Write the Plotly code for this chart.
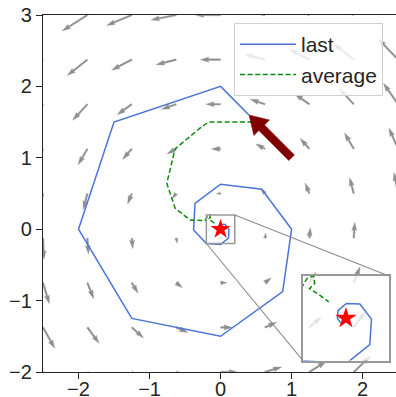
import math
import plotly.graph_objects as go

# ---- gradient field sampled on a 9 x 9 grid (tails of the arrows) ----
grid_x = [-2.5, -1.875, -1.25, -0.625, 0.0, 0.625, 1.25, 1.875, 2.5]
grid_y = [-2.0, -1.375, -0.75, -0.125, 0.5, 1.125, 1.75, 2.375, 3.0]

# horizontal component, one row per grid_y value
field_u = [
    [2.0, 2.0, 2.0, 2.0, 2.0, 2.0, 2.0, 2.0, 2.0],
    [1.4, 1.4, 1.4, 1.4, 1.4, 1.4, 1.4, 1.4, 1.4],
    [0.75, 0.75, 0.75, 0.75, 0.75, 0.75, 0.75, 0.75, 0.75],
    [0.12, 0.12, 0.12, 0.12, 0.12, 0.12, 0.12, 0.12, 0.12],
    [-0.5, -0.5, -0.5, -0.5, -0.5, -0.5, -0.5, -0.5, -0.5],
    [-1.1, -1.1, -1.1, -1.1, -1.1, -1.1, -1.1, -1.1, -1.1],
    [-1.75, -1.75, -1.75, -1.75, -1.75, -1.75, -1.75, -1.75, -1.75],
    [-2.4, -2.4, -2.4, -2.4, -2.4, -2.4, -2.4, -2.4, -2.4],
    [-3.0, -3.0, -3.0, -3.0, -3.0, -3.0, -3.0, -3.0, -3.0],
]
# vertical component, one row per grid_y value
field_v = [
    [-2.5, -1.9, -1.25, -0.6, 0.0, 0.6, 1.25, 1.9, 2.5],
    [-2.5, -1.9, -1.25, -0.6, 0.0, 0.6, 1.25, 1.9, 2.5],
    [-2.5, -1.9, -1.25, -0.6, 0.0, 0.6, 1.25, 1.9, 2.5],
    [-2.5, -1.9, -1.25, -0.6, 0.0, 0.6, 1.25, 1.9, 2.5],
    [-2.5, -1.9, -1.25, -0.6, 0.0, 0.6, 1.25, 1.9, 2.5],
    [-2.5, -1.9, -1.25, -0.6, 0.0, 0.6, 1.25, 1.9, 2.5],
    [-2.5, -1.9, -1.25, -0.6, 0.0, 0.6, 1.25, 1.9, 2.5],
    [-2.5, -1.9, -1.25, -0.6, 0.0, 0.6, 1.25, 1.9, 2.5],
    [-2.5, -1.9, -1.25, -0.6, 0.0, 0.6, 1.25, 1.9, 2.5],
]

# ---- trajectories ----
last_x = [0.4, 0.0, -1.5, -2.0, -1.25, 0.0, 0.875, 1.0, 0.58, 0.0, -0.36, -0.38,
          -0.2, 0.0, 0.111, 0.119, 0.065, 0.002, -0.037, -0.04, -0.024]
last_y = [1.6, 2.0, 1.5, 0.0, -1.25, -1.5, -0.875, 0.0, 0.56, 0.63, 0.36, -0.01,
          -0.2, -0.215, -0.125, -0.004, 0.067, 0.07, 0.036, 0.0, -0.023]

avg_x = [0.45, -0.17, -0.29, -0.64, -0.757, -0.64, -0.43, -0.22, -0.18, -0.15,
         -0.145, -0.17, -0.13, -0.08]
avg_y = [1.5, 1.5, 1.415, 1.125, 0.644, 0.294, 0.13, 0.12, 0.19, 0.2,
         0.165, 0.14, 0.115, 0.078]

optimum_x = [0.0]
optimum_y = [0.0]

# starting-point pointer: tail and tip
start_from = (1.0, 1.0)
start_to = (0.4, 1.6)

# ---- layout geometry ----
W, H = 396, 397
M_L, M_R, M_T, M_B = 43, 0, 15, 25
PLOT_W = W - M_L - M_R
PLOT_H = H - M_T - M_B
X_RANGE = [-2.5, 2.47]
Y_RANGE = [-2.0, 3.0]
PXX = PLOT_W / (X_RANGE[1] - X_RANGE[0])
PXY = PLOT_H / (Y_RANGE[1] - Y_RANGE[0])

ZOOM = 0.2                           # half-size of the magnified window
INSET_X = [1.16, 2.37]               # inset placement in main data units
INSET_Y = [-1.84, -0.655]

FONT = "Liberation Sans, Arial, sans-serif"
INK = "#262626"


def arrow_polygon(x0, y0, dx_px, dy_px, width, head_w, head_l, head_al):
    """Quiver-style arrow polygon built in pixel space, returned in data units."""
    L = math.hypot(dx_px, dy_px)
    if L == 0:
        return [], []
    if L < head_l:  # short arrows shrink as a whole
        s = L / head_l
        width, head_w, head_l, head_al = width * s, head_w * s, head_l * s, head_al * s
    pts = [(0, -width / 2), (L - head_al, -width / 2), (L - head_l, -head_w / 2),
           (L, 0), (L - head_l, head_w / 2), (L - head_al, width / 2), (0, width / 2)]
    c, s_ = dx_px / L, dy_px / L
    xs, ys = [], []
    for t, n in pts:
        px = t * c - n * s_
        py = t * s_ + n * c
        xs.append(x0 + px / PXX)
        ys.append(y0 + py / PXY)
    xs.append(xs[0])
    ys.append(ys[0])
    return xs, ys


# quiver arrows
ARROW_PX_PER_UNIT = 8.4
SHAFT = 1.7
qx, qy = [], []
for j, yv in enumerate(grid_y):
    for i, xv in enumerate(grid_x):
        u = field_u[j][i] * ARROW_PX_PER_UNIT
        v = field_v[j][i] * ARROW_PX_PER_UNIT
        ax_, ay_ = arrow_polygon(xv, yv, u, v, SHAFT, 3 * SHAFT, 5 * SHAFT, 4.5 * SHAFT)
        if ax_:
            qx += ax_ + [None]
            qy += ay_ + [None]

# starting-point pointer polygon
sdx = (start_to[0] - start_from[0]) * PXX
sdy = (start_to[1] - start_from[1]) * PXY
bx, by = arrow_polygon(start_from[0], start_from[1], sdx, sdy, 8, 22, 18, 18)

BLUE = "#4a74d8"
GREEN = "#0f8a0f"

fig = go.Figure()

fig.add_trace(go.Scatter(x=qx, y=qy, mode="lines", fill="toself",
                         fillcolor="#8f8f8f", line=dict(color="#8f8f8f", width=0.3),
                         hoverinfo="skip", showlegend=False))
fig.add_trace(go.Scatter(x=last_x, y=last_y, mode="lines", name="last",
                         line=dict(color=BLUE, width=1.5), legendgroup="a"))
fig.add_trace(go.Scatter(x=avg_x, y=avg_y, mode="lines", name="average",
                         line=dict(color=GREEN, width=1.5, dash="5px,2.6px"),
                         legendgroup="b"))
fig.add_trace(go.Scatter(x=optimum_x, y=optimum_y, mode="markers",
                         marker=dict(symbol="star", size=15, color="red",
                                     line=dict(width=0)),
                         showlegend=False))
fig.add_trace(go.Scatter(x=bx, y=by, mode="lines", fill="toself",
                         fillcolor="#800000", line=dict(color="#800000", width=0.5),
                         hoverinfo="skip", showlegend=False))

# magnified view around the optimum
fig.add_trace(go.Scatter(x=last_x, y=last_y, mode="lines", xaxis="x2", yaxis="y2",
                         line=dict(color=BLUE, width=1.5), showlegend=False))
fig.add_trace(go.Scatter(x=avg_x, y=avg_y, mode="lines", xaxis="x2", yaxis="y2",
                         line=dict(color=GREEN, width=1.5, dash="5px,2.6px"),
                         showlegend=False))
fig.add_trace(go.Scatter(x=optimum_x, y=optimum_y, mode="markers", xaxis="x2", yaxis="y2",
                         marker=dict(symbol="star", size=16, color="red",
                                     line=dict(width=0)),
                         showlegend=False))


def frac(v, rng):
    return (v - rng[0]) / (rng[1] - rng[0])


fig.update_layout(
    width=W, height=H,
    margin=dict(l=M_L, r=M_R, t=M_T, b=M_B, pad=0, autoexpand=False),
    paper_bgcolor="white",
    plot_bgcolor="rgba(255,255,255,0.75)",
    font=dict(family=FONT, size=20, color=INK),
    xaxis=dict(range=X_RANGE, tickvals=[-2, -1, 0, 1, 2], showgrid=False,
               zeroline=False, showline=True, mirror=True, linecolor=INK,
               linewidth=1.3, ticks="outside", ticklen=6, tickwidth=1.3,
               tickcolor=INK, ticklabelstandoff=-7,
               tickfont=dict(size=20, family=FONT, color=INK)),
    yaxis=dict(range=Y_RANGE, tickvals=[-2, -1, 0, 1, 2, 3], showgrid=False,
               zeroline=False, showline=True, linecolor=INK, linewidth=1.3,
               ticks="outside", ticklen=6, tickwidth=1.3, tickcolor=INK,
               tickfont=dict(size=20, family=FONT, color=INK)),
    xaxis2=dict(domain=[frac(INSET_X[0], X_RANGE), frac(INSET_X[1], X_RANGE)],
                range=[-ZOOM, ZOOM], anchor="y2", showticklabels=False,
                ticks="", showgrid=False, zeroline=False, showline=True,
                mirror=True, linecolor="#999999", linewidth=1.5),
    yaxis2=dict(domain=[frac(INSET_Y[0], Y_RANGE), frac(INSET_Y[1], Y_RANGE)],
                range=[-ZOOM, ZOOM], anchor="x2", showticklabels=False,
                ticks="", showgrid=False, zeroline=False, showline=True,
                mirror=True, linecolor="#999999", linewidth=1.5),
    legend=dict(x=(234 - M_L) / PLOT_W, y=1 - (23 - M_T) / PLOT_H,
                xanchor="left", yanchor="top", bgcolor="rgba(255,255,255,0.8)",
                bordercolor="#d0d0d0", borderwidth=1, itemwidth=56,
                entrywidth=150,
                font=dict(size=21, family=FONT, color=INK),
                tracegroupgap=0, traceorder="grouped"),
    shapes=[
        dict(type="rect", xref="x", yref="y", x0=-ZOOM, x1=ZOOM, y0=-ZOOM, y1=ZOOM,
             line=dict(color="#999999", width=1.5)),
        dict(type="line", xref="x", yref="y", x0=ZOOM, y0=ZOOM,
             x1=INSET_X[1], y1=INSET_Y[1], line=dict(color="#8c8c8c", width=1.1)),
        dict(type="line", xref="x", yref="y", x0=-ZOOM, y0=-ZOOM,
             x1=INSET_X[0], y1=INSET_Y[0], line=dict(color="#8c8c8c", width=1.1)),
    ],
)

fig.write_html("out.html")
